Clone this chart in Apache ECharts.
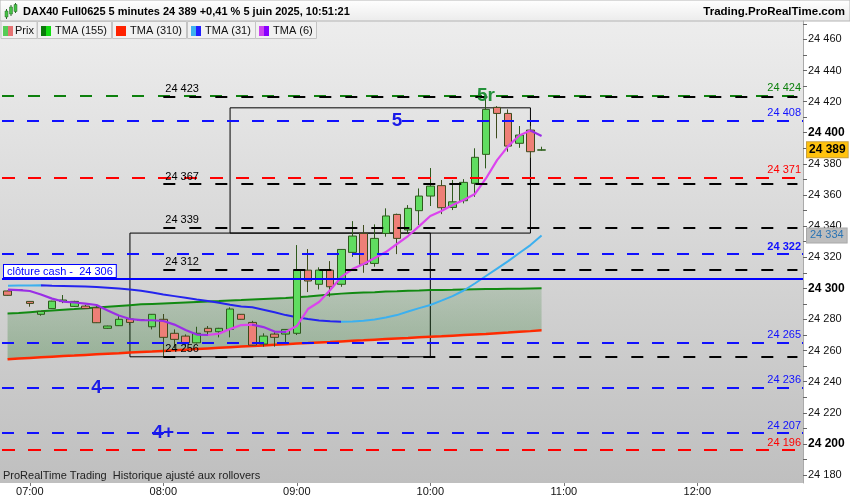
<!DOCTYPE html>
<html><head><meta charset="utf-8">
<script src="https://cdn.jsdelivr.net/npm/echarts@6/dist/echarts.min.js"></script>
<style>html,body{margin:0;padding:0;background:#fff}#c{width:850px;height:500px}</style>
</head><body><div id="c"></div>
<script>
// ---- categories (5-minute slots) ----
const times = [];
for (let m = 6 * 60 + 50; m <= 12 * 60 + 45; m += 5) {
  times.push(String(Math.floor(m / 60)).padStart(2, '0') + ':' + String(m % 60).padStart(2, '0'));
}
// ---- candles (06:50 .. 10:50) ----
const opens  = [24298.3,24298.8,24291.6,24283.3,24287.0,24291.5,24288.4,24288.6,24287.5,24274.3,24276.0,24280.3,24279.5,24275.3,24280.1,24271.1,24269.3,24265.0,24274.3,24272.1,24273.6,24283.3,24278.1,24264.2,24270.6,24270.6,24271.1,24311.7,24302.6,24311.7,24302.6,24323.1,24335.3,24316.0,24335.3,24347.5,24337.5,24349.9,24359.3,24366.0,24352.0,24356.3,24367.5,24386.1,24416.3,24412.4,24393.2,24401.7,24388.8];
const closes = [24295.5,24299.0,24290.3,24285.2,24291.8,24292.5,24291.6,24287.0,24277.9,24275.8,24280.1,24278.1,24279.7,24283.3,24268.5,24267.2,24265.0,24271.1,24272.1,24274.3,24286.7,24280.1,24263.5,24269.3,24268.5,24273.6,24311.7,24304.7,24311.7,24301.0,24325.0,24333.6,24315.4,24332.1,24346.5,24332.1,24351.4,24359.3,24365.7,24351.8,24355.6,24368.1,24384.2,24415.0,24412.4,24391.4,24398.5,24387.8,24389.0];
const lows   = [24295.3,24298.6,24288.2,24282.4,24286.8,24290.5,24288.0,24286.8,24277.7,24274.0,24275.8,24276.4,24279.3,24273.6,24256.0,24261.4,24262.9,24264.5,24270.4,24268.5,24268.5,24279.9,24263.3,24262.5,24262.5,24265.0,24270.0,24297.6,24299.3,24294.6,24301.0,24320.2,24310.0,24313.9,24333.2,24322.0,24335.3,24340.7,24352.9,24347.7,24350.3,24354.6,24358.8,24377.1,24396.4,24387.8,24390.3,24383.9,24388.5];
const highs  = [24298.5,24299.2,24291.8,24285.4,24292.0,24295.7,24292.0,24289.4,24289.3,24276.0,24282.4,24280.5,24279.9,24283.5,24283.5,24273.6,24270.4,24275.3,24275.8,24274.6,24287.8,24283.5,24279.1,24271.1,24272.1,24273.8,24327.8,24325.2,24313.5,24317.5,24325.2,24343.2,24340.7,24341.1,24351.4,24348.0,24353.5,24364.2,24377.3,24369.6,24369.6,24370.2,24390.0,24423.0,24417.1,24415.0,24404.3,24404.3,24391.0];
// ---- moving averages ----
const tma155 = [24283.8,24284.2,24284.7,24285.2,24285.8,24286.3,24286.7,24287.2,24287.7,24288.2,24288.7,24289.2,24289.7,24290.0,24290.3,24290.6,24290.9,24291.2,24291.5,24291.8,24292.2,24292.5,24292.9,24293.2,24293.5,24293.8,24294.3,24294.8,24295.4,24296.0,24296.6,24297.0,24297.3,24297.5,24297.9,24298.1,24298.4,24298.6,24298.9,24299.0,24299.1,24299.3,24299.4,24299.5,24299.6,24299.7,24299.8,24299.9,24300.0];
const tma310 = [24254.5,24254.9,24255.3,24255.7,24256.1,24256.5,24256.8,24257.2,24257.6,24258.0,24258.3,24258.7,24259.1,24259.4,24259.8,24260.2,24260.6,24261.0,24261.4,24261.8,24262.2,24262.6,24262.9,24263.3,24263.7,24264.1,24264.5,24264.8,24265.2,24265.5,24265.9,24266.3,24266.6,24267.0,24267.4,24267.8,24268.1,24268.5,24268.9,24269.2,24269.6,24270.0,24270.4,24270.7,24271.2,24271.6,24272.1,24272.5,24273.0];
const tma31  = [24301.7,24301.8,24301.9,24301.95,24301.7,24301.5,24301.3,24301.1,24300.8,24300.4,24299.9,24299.3,24298.4,24297.3,24296.1,24295.0,24293.9,24292.8,24291.8,24290.7,24289.4,24288.4,24287.8,24286.3,24284.6,24282.8,24281.4,24280.3,24279.4,24278.8,24278.5,24278.7,24279.1,24280.0,24281.2,24282.8,24285.1,24287.3,24289.3,24292.1,24295.0,24298.6,24303.1,24307.9,24312.7,24317.5,24322.7,24327.8,24334.0];
const tma6   = [24299.2,24298.9,24298.3,24296.0,24293.4,24291.5,24290.9,24290.2,24289.3,24285.7,24282.5,24280.3,24279.6,24279.5,24279.0,24276.7,24273.2,24270.3,24270.0,24270.9,24273.8,24276.4,24276.7,24275.1,24272.2,24272.0,24275.8,24286.7,24291.2,24298.9,24307.3,24312.4,24315.6,24319.5,24323.3,24328.5,24333.6,24340.0,24346.5,24349.7,24353.5,24356.8,24360.6,24370.6,24382.4,24391.4,24398.2,24401.4,24397.9];
// ---- levels / annotations ----
const blackLevels = [24423, 24367, 24339, 24312, 24256];
const blueLevels  = [24408, 24322, 24265, 24236, 24207];
const redLevels   = [24371, 24196];
const greenLevels = [24424];
const cashClose   = 24306;
const boxStart = ['07:45', '08:30'];
const boxEnd   = ['10:00', '10:45'];
const boxLow   = [24256, 24335.5];
const boxHigh  = [24335.5, 24416];
const annoText  = ['5', '5r', '4', '4+'];
const annoTime  = ['09:45', '10:25', '07:30', '08:00'];
const annoValue = [24408, 24424, 24236, 24207];
const annoColor = ['#1a1ae8', '#23913a', '#1a1ae8', '#1a1ae8'];
const yLabelValues = [24180,24200,24220,24240,24260,24280,24300,24320,24340,24360,24380,24400,24420,24440,24460];
const yTickValues  = [24180,24190,24200,24210,24220,24230,24240,24250,24260,24270,24280,24290,24300,24310,24320,24330,24340,24350,24360,24370,24380,24390,24400,24410,24420,24430,24440,24450,24460,24470];

const fmt = v => { const s = String(Math.round(v)); return s.slice(0, s.length - 3) + ' ' + s.slice(-3); };
const FONT = '"Liberation Sans", Arial, sans-serif';
const last = closes.length - 1;

function slopePieces(arr, upC, downC) {
  const p = [];
  for (let i = 0; i < arr.length - 1; i++) p.push({ gte: i, lt: i + 1, color: arr[i + 1] >= arr[i] ? upC : downC });
  p.push({ gte: arr.length - 1, color: p[p.length - 1].color });
  return p;
}

const candleData = opens.map((o, i) => [o, closes[i], lows[i], highs[i]]);
const lastCat = times[times.length - 1];

const levelLines = [];
greenLevels.forEach(v => levelLines.push({ yAxis: v, lineStyle: { color: '#0d800d', type: [12, 14], width: 2 },
  label: { show: true, position: 'insideEndTop', formatter: fmt(v), color: '#0d800d', fontSize: 11, distance: 2 } }));
blueLevels.forEach(v => levelLines.push({ yAxis: v, lineStyle: { color: '#1010ff', type: [12, 13], width: 2 },
  label: { show: true, position: 'insideEndTop', formatter: fmt(v), color: '#1010ff', fontSize: 11, distance: 2, fontWeight: v === 24322 ? 'bold' : 'normal' } }));
redLevels.forEach(v => levelLines.push({ yAxis: v, lineStyle: { color: '#ff0000', type: [13, 13], width: 2 },
  label: { show: true, position: 'insideEndTop', formatter: fmt(v), color: '#ff0000', fontSize: 11, distance: 2 } }));
blackLevels.forEach(v => levelLines.push([
  { xAxis: '08:00', yAxis: v, lineStyle: { color: '#000', type: [12, 14], width: 2 },
    label: { show: true, position: 'insideStartTop', formatter: fmt(v), color: '#000', fontSize: 11, distance: 2 } },
  { xAxis: lastCat, yAxis: v }
]));
levelLines.push({ yAxis: cashClose, lineStyle: { color: '#0000ff', type: 'solid', width: 2 },
  label: { show: true, position: 'insideStartTop', formatter: 'clôture cash -  ' + fmt(cashClose), color: '#0000ff', fontSize: 11,
    backgroundColor: '#fff', borderColor: '#0000ff', borderWidth: 1, padding: [1, 3, 0, 3], distance: 2 } });

const chart = echarts.init(document.getElementById('c'), null, { renderer: 'canvas' });
chart.setOption({
  animation: false,
  textStyle: { fontFamily: FONT },
  grid: { left: 2, right: 47, top: 21, bottom: 17 },
  xAxis: {
    type: 'category', data: times, boundaryGap: true,
    axisLine: { show: false },
    axisTick: { show: true, interval: (i) => i % 12 === 2, alignWithLabel: true, length: 3, lineStyle: { color: '#777' } },
    axisLabel: { interval: (i) => i % 12 === 2, fontSize: 11, color: '#111', margin: 3 },
    splitLine: { show: false }
  },
  yAxis: {
    type: 'value', position: 'right', min: 24174.9, max: 24471.8, scale: true,
    axisLine: { show: true, lineStyle: { color: '#aaaaaa' } },
    axisTick: { show: true, customValues: yTickValues, length: 4, lineStyle: { color: '#666' } },
    axisLabel: { customValues: yLabelValues, fontSize: 11, color: '#111', margin: 5,
      formatter: v => (v % 100 === 0 ? '{b|' + fmt(v) + '}' : fmt(v)),
      rich: { b: { fontSize: 12, fontWeight: 'bold', color: '#000' } } },
    splitLine: { show: false }
  },
  visualMap: [
    { type: 'piecewise', show: false, dimension: 0, seriesIndex: 4, pieces: slopePieces(tma31, '#3cb0ef', '#2424ee') },
    { type: 'piecewise', show: false, dimension: 0, seriesIndex: 6, pieces: slopePieces(tma6, '#dc44ee', '#9a2ee6') }
  ],
  graphic: [
    { type: 'rect', z: -5, shape: { x: 0, y: 21, width: 803, height: 462 },
      style: { fill: { type: 'linear', x: 0, y: 0, x2: 0, y2: 1, colorStops: [{ offset: 0, color: '#ededed' }, { offset: 1, color: '#bfbfbf' }] } } },
    { type: 'rect', z: -5, shape: { x: 0, y: 0, width: 850, height: 21 },
      style: { fill: { type: 'linear', x: 0, y: 0, x2: 0, y2: 1, colorStops: [{ offset: 0, color: '#ffffff' }, { offset: 1, color: '#ebebeb' }] }, stroke: '#b4b4b4', lineWidth: 1 } },
    // header icon
    { type: 'line', shape: { x1: 6.5, y1: 9, x2: 6.5, y2: 19 }, style: { stroke: '#2a6a2a', lineWidth: 1 } },
    { type: 'rect', shape: { x: 5, y: 11, width: 3, height: 6 }, style: { fill: '#46c146', stroke: '#2a6a2a', lineWidth: 0.5 } },
    { type: 'line', shape: { x1: 11, y1: 5, x2: 11, y2: 16 }, style: { stroke: '#2a6a2a', lineWidth: 1 } },
    { type: 'rect', shape: { x: 9.5, y: 7, width: 3, height: 7 }, style: { fill: '#46c146', stroke: '#2a6a2a', lineWidth: 0.5 } },
    { type: 'line', shape: { x1: 15.5, y1: 3, x2: 15.5, y2: 13 }, style: { stroke: '#2a6a2a', lineWidth: 1 } },
    { type: 'rect', shape: { x: 14, y: 4.5, width: 3, height: 7 }, style: { fill: '#46c146', stroke: '#2a6a2a', lineWidth: 0.5 } },
    { type: 'text', x: 23, y: 12, style: { text: 'DAX40 Full0625 5 minutes 24 389 +0,41 % 5 juin 2025, 10:51:21', font: 'bold 11px ' + FONT, fill: '#000', textVerticalAlign: 'middle' } },
    { type: 'text', x: 845, y: 12, style: { text: 'Trading.ProRealTime.com', font: 'bold 11.5px ' + FONT, fill: '#000', textAlign: 'right', textVerticalAlign: 'middle' } },
    // legend tabs
    { type: 'rect', shape: { x: 1, y: 21.5, width: 36, height: 17 }, style: { fill: '#f1f1f1', stroke: '#c4c4c4' } },
    { type: 'rect', shape: { x: 3, y: 26, width: 5, height: 10 }, style: { fill: '#55cc55' } },
    { type: 'rect', shape: { x: 8, y: 26, width: 5, height: 10 }, style: { fill: '#e57373' } },
    { type: 'text', x: 15, y: 30.5, style: { text: 'Prix', font: '11px ' + FONT, fill: '#111', textVerticalAlign: 'middle' } },
    { type: 'rect', shape: { x: 37.5, y: 21.5, width: 74, height: 17 }, style: { fill: '#f1f1f1', stroke: '#c4c4c4' } },
    { type: 'rect', shape: { x: 41, y: 26, width: 5, height: 10 }, style: { fill: '#0a7a0a' } },
    { type: 'rect', shape: { x: 46, y: 26, width: 5, height: 10 }, style: { fill: '#12dd12' } },
    { type: 'text', x: 55, y: 30.5, style: { text: 'TMA (155)', font: '11px ' + FONT, fill: '#111', textVerticalAlign: 'middle' } },
    { type: 'rect', shape: { x: 112.5, y: 21.5, width: 74, height: 17 }, style: { fill: '#f1f1f1', stroke: '#c4c4c4' } },
    { type: 'rect', shape: { x: 116, y: 26, width: 10, height: 10 }, style: { fill: '#ff2200' } },
    { type: 'text', x: 130, y: 30.5, style: { text: 'TMA (310)', font: '11px ' + FONT, fill: '#111', textVerticalAlign: 'middle' } },
    { type: 'rect', shape: { x: 187.5, y: 21.5, width: 68, height: 17 }, style: { fill: '#f1f1f1', stroke: '#c4c4c4' } },
    { type: 'rect', shape: { x: 191, y: 26, width: 5, height: 10 }, style: { fill: '#3cb0ef' } },
    { type: 'rect', shape: { x: 196, y: 26, width: 5, height: 10 }, style: { fill: '#2020ff' } },
    { type: 'text', x: 205, y: 30.5, style: { text: 'TMA (31)', font: '11px ' + FONT, fill: '#111', textVerticalAlign: 'middle' } },
    { type: 'rect', shape: { x: 255.5, y: 21.5, width: 61, height: 17 }, style: { fill: '#f1f1f1', stroke: '#c4c4c4' } },
    { type: 'rect', shape: { x: 259, y: 26, width: 5, height: 10 }, style: { fill: '#cc44ee' } },
    { type: 'rect', shape: { x: 264, y: 26, width: 5, height: 10 }, style: { fill: '#8800ff' } },
    { type: 'text', x: 273, y: 30.5, style: { text: 'TMA (6)', font: '11px ' + FONT, fill: '#111', textVerticalAlign: 'middle' } },
    { type: 'text', x: 3, y: 476, style: { text: 'ProRealTime Trading  Historique ajusté aux rollovers', font: '11px ' + FONT, fill: '#222', textVerticalAlign: 'middle' } }
  ],
  series: [
    { name: 'cloudBase', type: 'line', data: tma310, stack: 'cloud', symbol: 'none', silent: true, z: 1,
      lineStyle: { opacity: 0 } },
    { name: 'cloud', type: 'line', data: tma155.map((v, i) => v - tma310[i]), stack: 'cloud', symbol: 'none', silent: true, z: 1,
      lineStyle: { opacity: 0 },
      areaStyle: { color: { type: 'linear', x: 0, y: 0, x2: 0, y2: 1, colorStops: [{ offset: 0, color: 'rgba(20,110,20,0.22)' }, { offset: 1, color: 'rgba(20,110,20,0.40)' }] } } },
    { name: 'TMA (310)', type: 'line', data: tma310, symbol: 'none', z: 2, lineStyle: { color: '#ff2a00', width: 2.5 } },
    { name: 'TMA (155)', type: 'line', data: tma155, symbol: 'none', z: 2, lineStyle: { color: '#128a12', width: 2 } },
    { name: 'TMA (31)', type: 'line', data: tma31, symbol: 'none', z: 2, lineStyle: { width: 2 },
      markLine: { symbol: 'none', silent: true, data: [{ yAxis: tma31[last], lineStyle: { color: 'rgba(0,0,0,0)' },
        label: { show: true, position: 'end', distance: 4, formatter: fmt(tma31[last]), color: '#2a74b4', fontSize: 11,
          backgroundColor: '#bdbdbd', borderColor: '#a8a8a8', borderWidth: 1, padding: [2, 3, 1, 3] } }] } },
    { name: 'Prix', type: 'candlestick', data: candleData, barWidth: 8, z: 3,
      itemStyle: { color: '#60dd60', color0: '#ee7f77', borderColor: '#2e5a1c', borderColor0: '#3e4a1c', borderWidth: 1 },
      markLine: { symbol: 'none', silent: true, data: [{ yAxis: closes[last], lineStyle: { color: 'rgba(0,0,0,0)' },
        label: { show: true, position: 'end', distance: 4, formatter: fmt(closes[last]), color: '#000', fontSize: 12, fontWeight: 'bold',
          backgroundColor: '#ffc20e', borderColor: '#c8a040', borderWidth: 1, padding: [2, 2, 1, 2] } }] } },
    { name: 'TMA (6)', type: 'line', data: tma6, symbol: 'none', z: 4, lineStyle: { width: 2.2 } },
    { name: 'levels', type: 'line', data: [], z: 5, silent: true,
      markLine: { symbol: 'none', silent: true, data: levelLines },
      markArea: { silent: true, itemStyle: { color: 'rgba(0,0,0,0)', borderColor: '#000', borderWidth: 1 },
        data: boxStart.map((s, i) => [{ xAxis: s, yAxis: boxLow[i] }, { xAxis: boxEnd[i], yAxis: boxHigh[i] }]) },
      markPoint: { symbol: 'circle', symbolSize: 1, itemStyle: { color: 'rgba(0,0,0,0)' },
        data: annoText.map((t, i) => ({ coord: [annoTime[i], annoValue[i]],
          label: { show: true, position: 'inside', formatter: t, color: annoColor[i], fontSize: 19, fontWeight: 'bold' } })) } }
  ]
});
</script>
</body></html>
